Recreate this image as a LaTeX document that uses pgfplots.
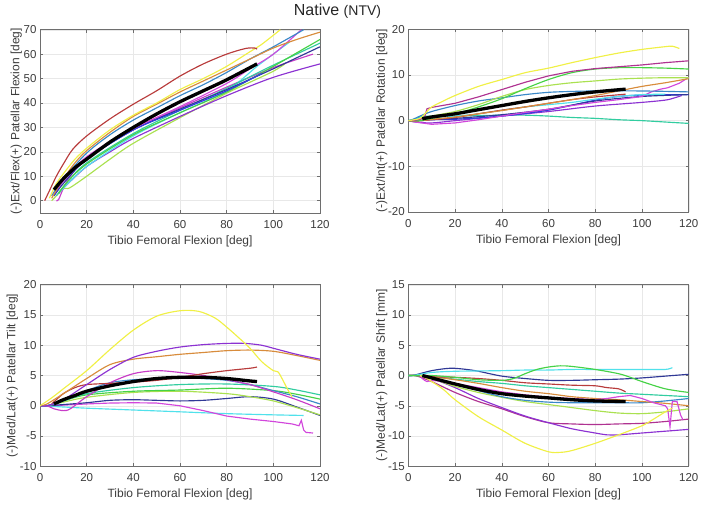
\documentclass[border=0pt]{standalone}
\usepackage{pgfplots}
\pgfplotsset{compat=1.18}
\usepackage{fontspec}
\setmainfont{Liberation Sans}
\definecolor{cRed}{RGB}{184,60,60}
\definecolor{cYel}{RGB}{240,240,70}
\definecolor{cOra}{RGB}{216,140,60}
\definecolor{cSte}{RGB}{58,136,200}
\definecolor{cNav}{RGB}{48,56,150}
\definecolor{cPur}{RGB}{140,50,210}
\definecolor{cMag}{RGB}{200,60,200}
\definecolor{cVio}{RGB}{210,70,220}
\definecolor{cGre}{RGB}{70,210,70}
\definecolor{cLim}{RGB}{170,225,80}
\definecolor{cCya}{RGB}{80,225,235}
\definecolor{cTea}{RGB}{50,205,160}
\definecolor{cBlu}{RGB}{50,60,225}
\definecolor{cCri}{RGB}{175,50,145}
\definecolor{axgray}{RGB}{110,110,110}
\definecolor{txgray}{RGB}{60,60,60}
\pgfplotsset{
  mat/.style={
    scale only axis, anchor=south west,
    xmin=0, xmax=120, xtick={0,20,...,120},
    grid=major, major grid style={draw=black!9, line width=0.4pt},
    axis line style={draw=axgray, line width=0.6pt},
    tick style={draw=axgray, line width=0.5pt},
    tick align=inside, major tick length=3pt,
    ticklabel style={font=\fontsize{11.5}{13}\selectfont, text=txgray},
    xticklabel style={yshift=-4pt},
    /pgf/number format/assume math mode=true,
    label style={font=\fontsize{12}{14}\selectfont, text=txgray},
    xlabel={Tibio Femoral Flexion [deg]},
    every axis plot/.append style={line width=1.15pt, no marks, smooth},
    clip=true,
  },
  blk/.style={black, line width=3.3pt},
}
\begin{document}
\begin{tikzpicture}
\useasboundingbox (0pt,0pt) rectangle (702pt,-506pt);
\node[font=\fontsize{16}{18}\selectfont, text=black!85] at (337.5pt,-11pt) {Native {\fontsize{14}{16}\selectfont (NTV)}};
% ---------------- Panel 1 ----------------
\begin{axis}[mat, at={(40pt,-212.9pt)}, width=280pt, height=183.2pt,
  ymin=-5, ymax=70, ytick={0,10,...,70}, ylabel shift=-5pt,
  ylabel={(-)Ext/Flex(+) Patellar Flexion [deg]}]
\addplot[cLim] coordinates {(5,0)(8,3)(10,5)(12,5)(14,6)(20,10)(30,17)(40,23.5)(60,34)(80,44)(90,48.5)(100,53)(105,56)};
\addplot[cPur] coordinates {(8,3)(12,7)(20,14)(30,20)(40,25.5)(60,34.5)(80,43)(100,50.5)(120,56)};
\addplot[cMag] coordinates {(7,0)(8,0.5)(10,5)(13,10)(20,17.5)(40,29)(60,38)(80,46.5)(100,54.5)(117,60)};
\addplot[cCya] coordinates {(8,3)(12,7)(20,14)(40,26.5)(60,36)(80,45)(93,55)(100,60)(107,65)};
\addplot[cTea] coordinates {(7,2)(12,8)(20,15.5)(40,27.5)(60,37)(80,46)(100,55.5)(120,64.5)};
\addplot[cGre] coordinates {(8,3)(12,8)(20,15)(40,27)(60,36)(80,44.5)(100,55)(110,60.5)(120,66)};
\addplot[cNav] coordinates {(6,2)(10,7)(20,17)(40,29)(60,37.5)(80,45.5)(100,54)(110,58.5)(120,63)};
\addplot[cBlu] coordinates {(6,2)(10,8)(20,17)(40,29)(60,37)(80,45)(95,52)};
\addplot[cVio] coordinates {(6,3)(10,8)(20,18)(40,29.5)(60,38.5)(80,48)(90,54)(100,60)(112,70)};
\addplot[cSte] coordinates {(5,2)(10,9)(20,19.5)(30,27)(40,33)(50,38)(60,43)(70,47.5)(80,52.5)(90,58)(100,63)(113,70)};
\addplot[cOra] coordinates {(5,1)(8,6)(10,9)(15,15.5)(20,20.5)(30,28)(40,34.5)(50,39.5)(60,44.5)(70,49)(80,53.5)(90,58)(100,62.5)(110,66)(120,69)};
\addplot[cYel] coordinates {(4,1)(7,7)(10,11)(15,17)(20,21.5)(30,29)(40,35)(50,40)(60,45.5)(70,50)(80,55)(90,61)(95,64)(103,70)};
\addplot[cRed] coordinates {(2,0)(4,4)(7,10)(10,15)(14,21)(20,26.5)(30,33.5)(40,39.5)(50,45)(60,51)(70,56)(80,60)(88,62.3)(92,62.5)(93,62)};
\addplot[blk] coordinates {(6,4.5)(10,9)(15,13.5)(20,17)(30,24)(40,30)(50,35.5)(60,40.5)(70,45)(80,49.5)(93,56)};
\end{axis}
% ---------------- Panel 2 ----------------
\begin{axis}[mat, at={(408.3pt,-212pt)}, width=280.4pt, height=182.7pt,
  ymin=-20, ymax=20, ytick={-20,-10,0,10,20}, ylabel shift=-6pt,
  ylabel={(-)Ext/Int(+) Patellar Rotation [deg]}]
\addplot[cTea] coordinates {(0,0)(2,0.2)(5,0.8)(10,1)(20,1)(40,1.2)(50,1.2)(60,1)(70,0.7)(80,0.5)(90,0.2)(100,0)(110,-0.3)(120,-0.6)};
\addplot[cPur] coordinates {(0,0)(3,-0.3)(10,-0.5)(20,0)(40,1)(60,2)(80,3.2)(100,4)(110,4.5)(114,5)(117,5.5)};
\addplot[cBlu] coordinates {(0,0)(5,0)(10,0.2)(20,0.3)(40,1)(60,2.3)(80,4.5)(90,5.3)(100,5.6)(120,5.7)};
\addplot[cNav] coordinates {(0,0)(5,0)(10,0.3)(20,0.5)(40,1.3)(60,2.5)(80,4.3)(100,5.3)(120,5.7)};
\addplot[cVio, sharp plot] coordinates {(0,0)(3,-0.3)(10,-0.8)(20,-0.5)(30,0.2)(40,1)(50,1.8)(60,2.5)(70,3.3)(80,4)(90,4.6)(100,5.3)(104,6.3)(108,6.9)(111,7.2)(113,7.6)(116,8.2)(120,9.5)};
\addplot[cCya] coordinates {(0,0)(5,0.5)(10,0.7)(20,1)(30,1.5)(40,2.3)(50,3)(60,3.5)(70,4)(80,4.7)(90,5.3)(100,5.7)(110,5.8)};
\addplot[cRed] coordinates {(0,0)(5,0)(10,0.2)(20,0.7)(30,1.5)(40,2.3)(50,3)(60,3.8)(70,4.6)(80,5.2)(93,5.8)};
\addplot[cOra] coordinates {(0,0)(5,0)(10,0.3)(20,0.8)(30,1.5)(40,2.2)(50,3)(60,3.8)(70,4.6)(80,5.5)(90,6.5)(100,7.5)(110,8.3)(120,9.2)};
\addplot[cSte] coordinates {(0,0)(2,0.3)(5,1)(10,2)(20,3.3)(30,4.3)(40,5)(50,5.7)(60,6.2)(70,6.4)(80,6.5)(100,6.5)(120,6.3)};
\addplot[cLim] coordinates {(0,0)(5,0.3)(10,1)(20,2)(30,3.5)(40,5.3)(50,6.8)(60,7.7)(70,8.3)(80,8.7)(90,9.1)(100,9.3)(110,9.4)(120,9.4)};
\addplot[cGre] coordinates {(0,0)(5,0)(10,0.5)(20,1.5)(30,3)(40,4.8)(50,7)(60,9)(70,10.5)(80,11.3)(90,11.6)(100,11.6)(110,11.5)(120,11.3)};
\addplot[cCri, sharp plot] coordinates {(0,0)(2,0)(5,0.3)(7,0.8)(8,2.6)(10,2.9)(20,3.8)(30,5.2)(40,6.8)(50,8.4)(60,9.8)(70,10.8)(80,11.4)(90,11.8)(100,12.2)(110,12.7)(120,13.1)};
\addplot[cYel] coordinates {(0,0)(5,0.5)(8,2)(10,3)(15,4.3)(20,5.5)(30,7.5)(40,9)(50,10.5)(60,11.5)(70,12.7)(80,13.8)(90,14.8)(100,15.6)(110,16.2)(113,16.3)(116,15.8)};
\addplot[blk] coordinates {(6,0.4)(10,0.8)(20,1.5)(30,2.4)(40,3.3)(50,4.2)(60,5)(70,5.7)(80,6.3)(93,6.9)};
\end{axis}
% ---------------- Panel 3 ----------------
\begin{axis}[mat, at={(40pt,-466.3pt)}, width=280pt, height=181.6pt,
  ymin=-10, ymax=20, ytick={-10,-5,...,20}, ylabel shift=-5pt,
  ylabel={(-)Med/Lat(+) Patellar Tilt [deg]}]
\addplot[cCya] coordinates {(0,0)(10,-0.2)(20,-0.4)(40,-0.7)(60,-1)(80,-1.3)(100,-1.5)(113,-1.6)};
\addplot[cVio, sharp plot] coordinates {(0,0)(3,0)(10,0.1)(20,0.3)(30,0.45)(40,0.5)(50,0.45)(60,0)(70,-0.8)(80,-1.7)(90,-2.2)(100,-2.6)(108,-3)(111,-3.3)(112,-2.4)(113,-4)(114,-4.4)(117,-4.5)};
\addplot[cNav] coordinates {(0,0)(3,0)(10,0.2)(20,0.5)(30,0.9)(40,1)(50,0.9)(60,0.8)(70,0.9)(80,1.2)(90,1.5)(100,1.1)(110,-0.2)(120,-1.6)};
\addplot[cLim] coordinates {(0,0)(3,0)(10,0.6)(20,1.4)(40,2.2)(60,2.4)(80,2)(90,1.5)(100,0.8)(110,-0.3)(120,-1.5)};
\addplot[cGre] coordinates {(0,0)(3,0)(10,0.8)(20,1.8)(40,2.4)(60,2.6)(80,2.9)(100,2.5)(110,1.9)(120,1.1)};
\addplot[cTea] coordinates {(0,0)(3,0)(10,0.8)(20,2)(40,3)(60,3.5)(80,3.6)(100,3.2)(110,2.6)(120,1.8)};
\addplot[cSte] coordinates {(0,0)(3,0)(10,0.8)(20,2.5)(30,3.8)(40,4.3)(50,4.5)(60,4.6)(70,4.5)(80,4.2)(90,3.5)(100,2.5)(110,1.5)(120,0.3)};
\addplot[cMag] coordinates {(0,0)(3,0)(6,-0.5)(10,-0.8)(13,-0.5)(20,1.5)(30,3.8)(40,5.3)(50,5.8)(60,5.5)(70,5)(80,4.3)(90,3.5)(100,2.3)(110,1)(120,-0.5)};
\addplot[cRed] coordinates {(5,0.3)(10,2)(15,3)(20,3.5)(30,3.7)(40,3.9)(50,4.2)(60,4.7)(70,5.3)(80,5.8)(90,6.2)(93,6.4)};
\addplot[cOra] coordinates {(0,0)(3,0.3)(10,2)(20,4.5)(30,6.8)(40,7.7)(50,8.1)(60,8.5)(70,8.8)(80,9.1)(90,9.2)(100,9)(110,8.3)(120,7.5)};
\addplot[cPur] coordinates {(0,0)(3,0)(10,1)(20,3.5)(30,6)(40,8)(50,9)(60,9.7)(70,10.1)(80,10.3)(88,10.3)(95,10)(100,9.5)(110,8.5)(120,7.7)};
\addplot[cYel] coordinates {(0,0)(5,1.3)(10,2.8)(20,5.8)(30,9.3)(40,12.5)(50,14.8)(60,15.7)(68,15.6)(75,14.5)(80,13)(85,11.3)(90,9.5)(95,7.3)(100,5.8)(102,5.6)(104,4.3)(106,2.8)(108,1.5)};
\addplot[blk] coordinates {(6,0.3)(10,1)(15,1.7)(20,2.4)(30,3.3)(40,4)(50,4.5)(60,4.7)(70,4.7)(80,4.5)(90,4.1)(93,4)};
\end{axis}
% ---------------- Panel 4 ----------------
\begin{axis}[mat, at={(408.3pt,-466.3pt)}, width=280.4pt, height=181.6pt,
  ymin=-15, ymax=15, ytick={-15,-10,...,15}, ylabel shift=-6pt,
  ylabel={(-)Med/Lat(+) Patellar Shift [mm]}]
\addplot[cCri] coordinates {(0,0)(3,0)(10,-1)(20,-2.8)(30,-4.3)(40,-5.5)(50,-6.8)(60,-7.8)(70,-8)(80,-8.1)(90,-8)(100,-7.9)(110,-7.6)(120,-7.2)};
\addplot[cPur] coordinates {(0,0)(3,0)(10,-0.5)(20,-2)(30,-3.8)(40,-5.3)(50,-6.7)(60,-7.8)(70,-8.8)(80,-9.5)(85,-9.8)(90,-9.8)(100,-9.5)(110,-9.2)(120,-8.9)};
\addplot[cLim] coordinates {(0,0)(3,0)(10,-0.5)(20,-1.8)(30,-2.8)(40,-3.6)(50,-4.3)(60,-4.8)(70,-5.3)(80,-5.8)(90,-6.2)(100,-6.3)(110,-6)(120,-5.5)};
\addplot[cSte] coordinates {(0,0)(3,0)(10,-0.5)(20,-1.5)(30,-2.5)(40,-3.5)(50,-4.1)(60,-4.4)(70,-4.5)(80,-4.5)(90,-4.5)(100,-4.5)(110,-4.2)(120,-3.8)};
\addplot[cTea] coordinates {(0,0)(3,0)(10,-0.2)(20,-0.6)(30,-1)(40,-1.3)(50,-1.7)(60,-2)(70,-2.3)(80,-2.6)(90,-2.9)(100,-3.1)(110,-3.3)(120,-3.5)};
\addplot[cOra] coordinates {(0,0)(3,0)(10,-0.2)(20,-0.7)(30,-1.3)(40,-2)(50,-2.6)(60,-3)(70,-3.5)(80,-3.8)(90,-4)(100,-4.3)(110,-4.6)(120,-5)};
\addplot[cRed] coordinates {(3,0)(10,-0.2)(20,-0.3)(30,-0.5)(40,-0.8)(50,-1.2)(60,-1.4)(70,-1.6)(80,-1.7)(85,-2)(90,-2.2)(93,-2.7)};
\addplot[cNav] coordinates {(0,0)(2,0)(10,0.8)(18,1.2)(25,1)(30,0.7)(40,-0.1)(50,-0.5)(60,-0.8)(70,-0.8)(80,-0.7)(90,-0.6)(100,-0.4)(110,-0.1)(120,0.2)};
\addplot[cCya] coordinates {(0,0)(2,0)(10,0.5)(20,0.7)(40,0.8)(50,0.9)(60,0.9)(70,1)(80,1)(90,1)(100,1)(110,1)(113,1.3)};
\addplot[cGre] coordinates {(0,0)(2,0)(10,0)(20,-0.3)(30,-0.7)(40,-0.8)(45,-0.5)(50,0.3)(55,1)(60,1.4)(65,1.6)(70,1.5)(80,1)(90,0.3)(95,-0.3)(100,-1)(110,-2.2)(120,-2.8)};
\addplot[cVio, sharp plot] coordinates {(5,0)(6,-0.5)(7,-0.8)(8,-1)(10,-0.8)(15,-1)(20,-1.3)(30,-2)(40,-2.7)(50,-3.2)(60,-3.6)(70,-3.8)(80,-4)(85,-3.8)(90,-3.5)(95,-3.3)(100,-3.8)(105,-4.5)(110,-5)(111,-5.5)(112,-8.5)(113,-4.3)(115,-4.3)(116.5,-6.5)(117.5,-7.3)};
\addplot[cYel] coordinates {(5,0)(8,-0.5)(10,-1)(15,-2.3)(20,-4)(30,-6.8)(40,-9)(50,-11.2)(60,-12.6)(65,-12.7)(70,-12.4)(80,-11.2)(90,-9.8)(100,-8.3)(105,-7.2)(110,-6)(113,-5.4)};
\addplot[blk] coordinates {(6,0)(10,-0.4)(20,-1.4)(30,-2.3)(40,-3)(50,-3.4)(60,-3.7)(70,-4)(80,-4.2)(93,-4.3)};
\end{axis}
\end{tikzpicture}
\end{document}
